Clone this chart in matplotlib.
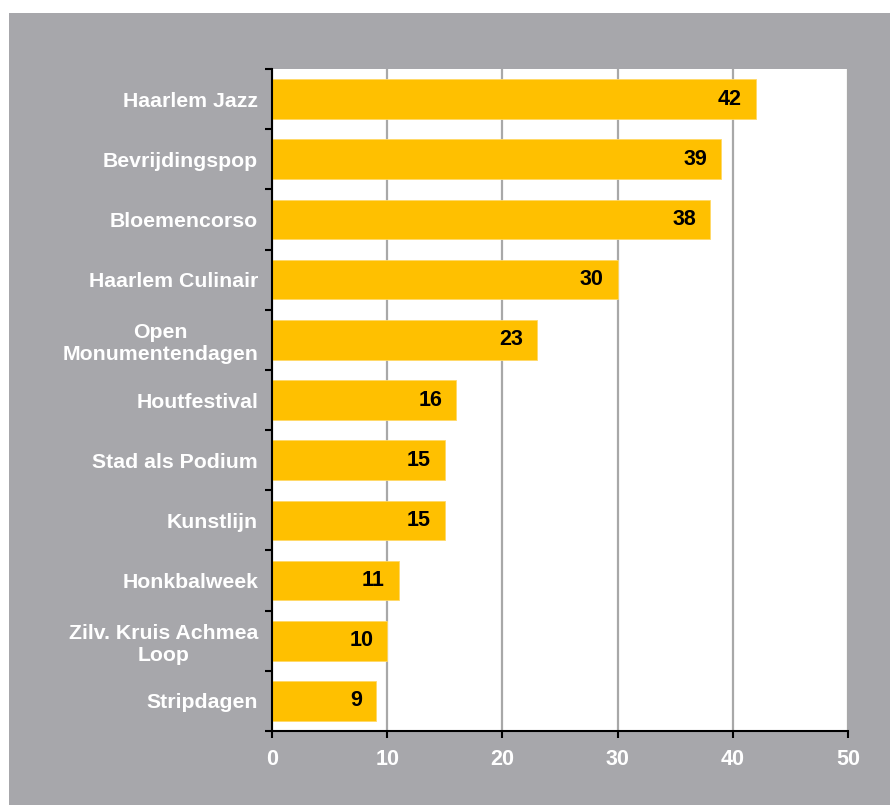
import matplotlib.pyplot as plt
import numpy as np
from matplotlib.patches import Rectangle

# events, top to bottom
events = [
    "Haarlem Jazz", "Bevrijdingspop", "Bloemencorso", "Haarlem Culinair",
    "Open\nMonumentendagen", "Houtfestival", "Stad als Podium", "Kunstlijn",
    "Honkbalweek", "Zilv. Kruis Achmea\nLoop", "Stripdagen",
]
values = [42, 39, 38, 30, 23, 16, 15, 15, 11, 10, 9]
xticks = [0, 10, 20, 30, 40, 50]

GRAY = "#a7a7ab"
BAR = "#ffc000"

plt.rcParams["font.family"] = ["Liberation Sans", "DejaVu Sans"]

fig = plt.figure(figsize=(8.9, 8.05), dpi=100)
fig.patch.set_facecolor("white")
fig.patches.append(Rectangle((9 / 890, 0), 1, 1 - 13 / 805, transform=fig.transFigure,
                             facecolor=GRAY, edgecolor="none", zorder=-10))

ax = fig.add_axes([272 / 890, 1 - 731 / 805, (848 - 272) / 890, (731 - 69) / 805])
ax.set_facecolor("white")

y = np.arange(len(events))
ax.barh(y, values, height=0.66, color=BAR, edgecolor="#ffd966", linewidth=0.6, zorder=3)

for yi, v in zip(y, values):
    ax.text(v - 1.2, yi, str(v), ha="right", va="center", fontsize=15.5,
            fontweight="bold", color="black", zorder=4)

ax.set_xlim(0, 50)
ax.set_ylim(len(events) - 0.5, -0.5)
ax.set_xticks(xticks)
ax.set_xticklabels([str(t) for t in xticks])
ax.xaxis.grid(True, color="#a8a8a8", linewidth=1.6, zorder=1)

ax.set_yticks(y)
ax.set_yticklabels(events, ha="right", multialignment="center")
ax.set_yticks(np.arange(-0.5, len(events)), minor=True)
ax.tick_params(axis="y", which="major", length=0, pad=10, labelsize=15.3,
               labelcolor="white")
ax.tick_params(axis="y", which="minor", length=5, width=1.5, direction="out", color="black")
ax.tick_params(axis="x", length=5, width=1.5, direction="out", color="black",
               labelsize=15.5, labelcolor="white", pad=8)
for lab in ax.get_xticklabels() + ax.get_yticklabels():
    lab.set_fontweight("bold")
for lab in ax.get_yticklabels():
    lab.set_linespacing(1.2)

for s in ["top", "right"]:
    ax.spines[s].set_visible(False)
for s in ["left", "bottom"]:
    ax.spines[s].set_linewidth(1.5)
    ax.spines[s].set_color("black")
    ax.spines[s].set_zorder(5)

fig.savefig("out.png", dpi=100, facecolor=fig.get_facecolor())
